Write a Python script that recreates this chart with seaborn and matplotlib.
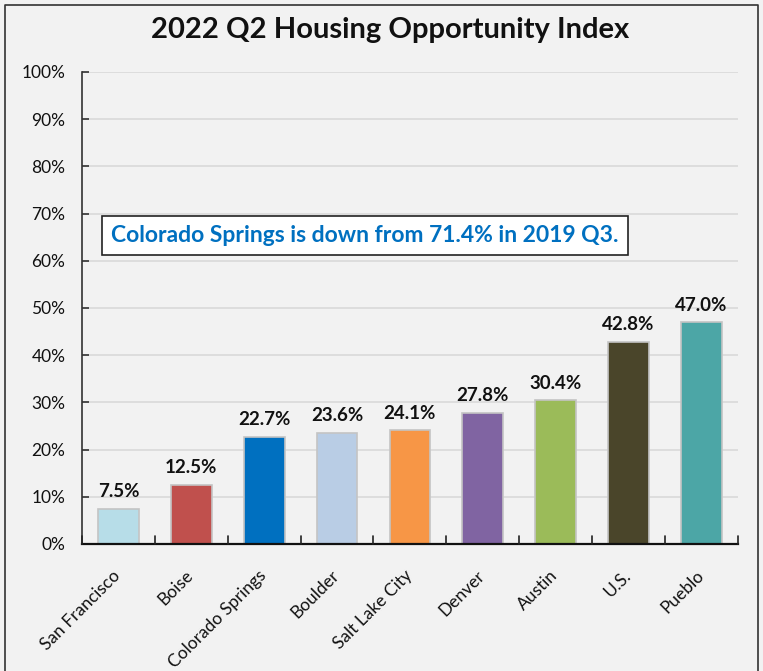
import matplotlib
matplotlib.use("Agg")
import matplotlib.pyplot as plt
import matplotlib.transforms as mtransforms
import seaborn as sns
import pandas as pd
from matplotlib.lines import Line2D

cities = ["San Francisco", "Boise", "Colorado Springs", "Boulder", "Salt Lake City",
          "Denver", "Austin", "U.S.", "Pueblo"]
values = [7.5, 12.5, 22.7, 23.6, 24.1, 27.8, 30.4, 42.8, 47.0]
colors = ["#b7dde8", "#c0504d", "#0070c0", "#b9cde5", "#f79646",
          "#8064a2", "#9bbb59", "#4a452a", "#4ca6a6"]
yticks = [0, 10, 20, 30, 40, 50, 60, 70, 80, 90, 100]
title = "2022 Q2 Housing Opportunity Index"
note = "Colorado Springs is down from 71.4% in 2019 Q3."

sns.set_theme(style="white")
plt.rcParams['font.family'] = ['Lato', 'DejaVu Sans']

df = pd.DataFrame({"city": cities, "value": values})

fig = plt.figure(figsize=(7.63, 6.71), dpi=100, facecolor="#f2f2f2")
ax = fig.add_axes([0.1075, 0.1893, 0.8595, 0.7034])
ax.set_facecolor("#f2f2f2")

sns.barplot(data=df, x="city", y="value", hue="city", palette=colors, legend=False,
            width=0.56, edgecolor="#c4c4c4", linewidth=1.2, ax=ax, saturation=1)

ax.set_ylim(0, 100)
ax.set_xlim(-0.5, len(cities) - 0.5)
ax.set_yticks(yticks)
ax.set_yticklabels([f"{t}%" for t in yticks], fontsize=12.5, color="#111111")
ax.yaxis.grid(True, color="#d9d9d9", linewidth=1.2)
ax.set_axisbelow(True)
ax.set_xlabel("")
ax.set_ylabel("")

ax.set_xticks(range(len(cities)))
ax.set_xticklabels(cities, rotation=45, ha="right", rotation_mode="anchor",
                   fontsize=12.5, color="#111111")
ax.tick_params(axis="x", length=0, pad=17)
ax.tick_params(axis="y", length=5, width=1.2, direction="in", color="#333333", pad=12, left=True)
offset = mtransforms.ScaledTranslation(-6 / 100, 0, fig.dpi_scale_trans)
for lbl in ax.get_xticklabels():
    lbl.set_transform(lbl.get_transform() + offset)
for b in [i + 0.5 for i in range(-1, len(cities))]:
    ax.plot([b, b], [0, 1.6], color="#222222", lw=1.2, clip_on=False, zorder=5)

for s in ["top", "right"]:
    ax.spines[s].set_visible(False)
ax.spines["left"].set_color("#333333")
ax.spines["left"].set_linewidth(1.2)
ax.spines["bottom"].set_color("#111111")
ax.spines["bottom"].set_linewidth(1.6)

for i, v in enumerate(values):
    ax.text(i, v + 1.8, f"{v:.1f}%", ha="center", va="bottom", fontsize=13.5,
            fontweight="bold", color="#111111")

ax.text(-0.1, 65.4, note, fontsize=16.5, fontweight="bold", color="#0070c0",
        ha="left", va="center",
        bbox=dict(boxstyle="square,pad=0.4", facecolor="white", edgecolor="#222222", linewidth=1.2))

fig.text(0.511, 0.955, title, ha="center", va="center", fontsize=21, fontweight="bold",
         color="#111111")

fig.add_artist(Line2D([0.0066, 0.0066, 0.9934, 0.9934], [0.0, 0.9925, 0.9925, 0.0],
                      color="#333333", lw=1.2, transform=fig.transFigure))

fig.savefig("out.png", dpi=100, facecolor=fig.get_facecolor())
